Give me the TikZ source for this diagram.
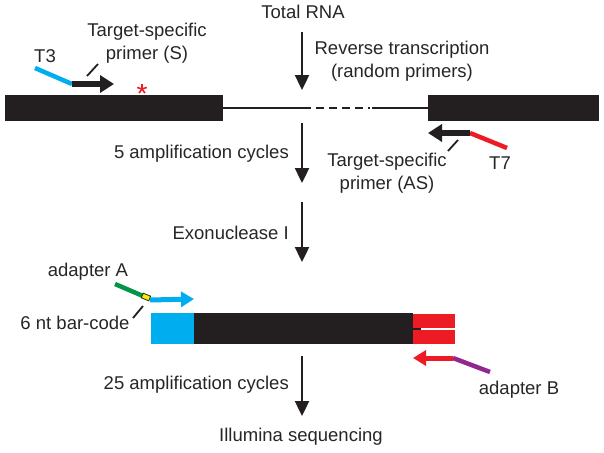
\documentclass[tikz,border=0pt]{standalone}
\usepackage{fontspec}
\setmainfont{Liberation Sans}
\usetikzlibrary{arrows.meta}
\usetikzlibrary{calc}

\definecolor{dnablack}{RGB}{35,31,32}
\definecolor{adcyan}{RGB}{0,174,239}
\definecolor{adred}{RGB}{237,28,36}
\definecolor{adgreen}{RGB}{0,150,70}
\definecolor{adpurple}{RGB}{146,39,143}
\definecolor{bcyellow}{RGB}{255,236,0}

\begin{document}
\begin{tikzpicture}[x=1pt,y=-1pt,
    lbl/.style={font=\fontsize{18.5}{23}\selectfont,text=black!85,inner sep=0pt,align=center},
    flow/.style={dnablack,line width=2.4pt,-{Triangle[length=15pt,width=14pt]}},
    primer/.style={line width=6.5pt,-{Triangle[length=14pt,width=17pt]}},
    tail/.style={line width=4.5pt},
    tick/.style={dnablack,line width=1.8pt},
    rnaline/.style={dnablack,line width=2.6pt}]
    \useasboundingbox (0,0) rectangle (604,452);

    % texts
    \node[lbl] (rna) at (303,12) {Total RNA};
    \node[lbl] (rt) at (402,61) {Reverse transcription\\(random primers)};
    \node[lbl] (ps) at (147,43) {Target-specific\\primer (S)};
    \node[lbl] (pas) at (387,173) {Target-specific\\primer (AS)};
    \node[lbl] (tthree) at (45,56) {T3};
    \node[lbl] (tseven) at (500,163) {T7};
    \node[lbl,anchor=east] (amp5) at (289,154) {5 amplification cycles};
    \node[lbl,anchor=east] (exo) at (289,233) {Exonuclease I};
    \node[lbl,anchor=east] (amp25) at (289,385) {25 amplification cycles};
    \node[lbl] (illu) at (301,437) {Illumina sequencing};
    \node[lbl] (adA) at (88,272) {adapter A};
    \node[lbl] (bcode) at (75,323) {6 nt bar-code};
    \node[lbl] (adB) at (519,390) {adapter B};

    % main flow
    \coordinate (f1a) at (302,32);
    \coordinate (f1b) at (302,90);
    \coordinate (f2a) at (302,123);
    \coordinate (f2b) at (302,183);
    \coordinate (f3a) at (302,202);
    \coordinate (f3b) at (302,262);
    \coordinate (f4a) at (302,356);
    \coordinate (f4b) at (302,416);
    \draw[flow] (f1a) -- (f1b);
    \draw[flow] (f2a) -- (f2b);
    \draw[flow] (f3a) -- (f3b);
    \draw[flow] (f4a) -- (f4b);

    % template
    \fill[dnablack] (5,95) rectangle (223,121);
    \fill[dnablack] (428,95) rectangle (599,121);
    \coordinate (exa) at (223,108);
    \coordinate (exb) at (428,108);
    \draw[rnaline] (exa) -- (311,108);
    \draw[rnaline,dash pattern=on 8pt off 5pt] (316,108) -- (370,108);
    \draw[rnaline] (372,108) -- (exb);

    % mutation
    \coordinate (mut) at (142,89);
    \foreach \a in {-90,-18,54,126,198}
        \draw[adred,line width=1.6pt] (mut) -- ++(\a:5);

    % primer S with T3
    \coordinate (tta) at (35,68);
    \coordinate (ttb) at (72,84);
    \coordinate (stip) at (114,84);
    \draw[tail,adcyan] (tta) -- (ttb);
    \draw[primer,dnablack] (ttb) -- (stip);
    \draw[tick] (87,76) -- (98,64);

    % primer AS with T7
    \coordinate (tsa) at (507,148);
    \coordinate (tsb) at (470,133);
    \coordinate (astip) at (428,133);
    \draw[tail,adred] (tsa) -- (tsb);
    \draw[primer,dnablack] (tsb) -- (astip);
    \draw[tick] (448,151) -- (458,140);

    % library
    \fill[adcyan] (151,313) rectangle (194,344);
    \fill[dnablack] (194,313) rectangle (413,344);
    \fill[adred] (413,314) rectangle (455,344);
    \draw[white,line width=1.5pt] (413,329) -- (455,329);
    \draw[dnablack,line width=1.2pt] (411,329) -- (421,329);

    % adapter A
    \coordinate (aga) at (115,284);
    \coordinate (agb) at (143,296);
    \draw[tail,adgreen] (aga) -- (agb);
    \node[draw=dnablack,fill=bcyellow,line width=0.8pt,minimum width=8pt,minimum height=5pt,inner sep=0pt,rotate=-22] (bc) at (146,297) {};
    \coordinate (aca) at (150,300);
    \coordinate (actip) at (194,299);
    \draw[adcyan,line width=5pt,-{Triangle[length=13pt,width=15pt]}] (aca) -- (actip);
    \draw[tick] (133,318) -- (143,306);

    % adapter B
    \coordinate (apa) at (490,372);
    \coordinate (apb) at (453,358);
    \coordinate (abtip) at (413,358);
    \draw[tail,adpurple] (apa) -- (apb);
    \draw[adred,line width=5pt,-{Triangle[length=13pt,width=15pt]}] (apb) -- (abtip);
\end{tikzpicture}
\end{document}
